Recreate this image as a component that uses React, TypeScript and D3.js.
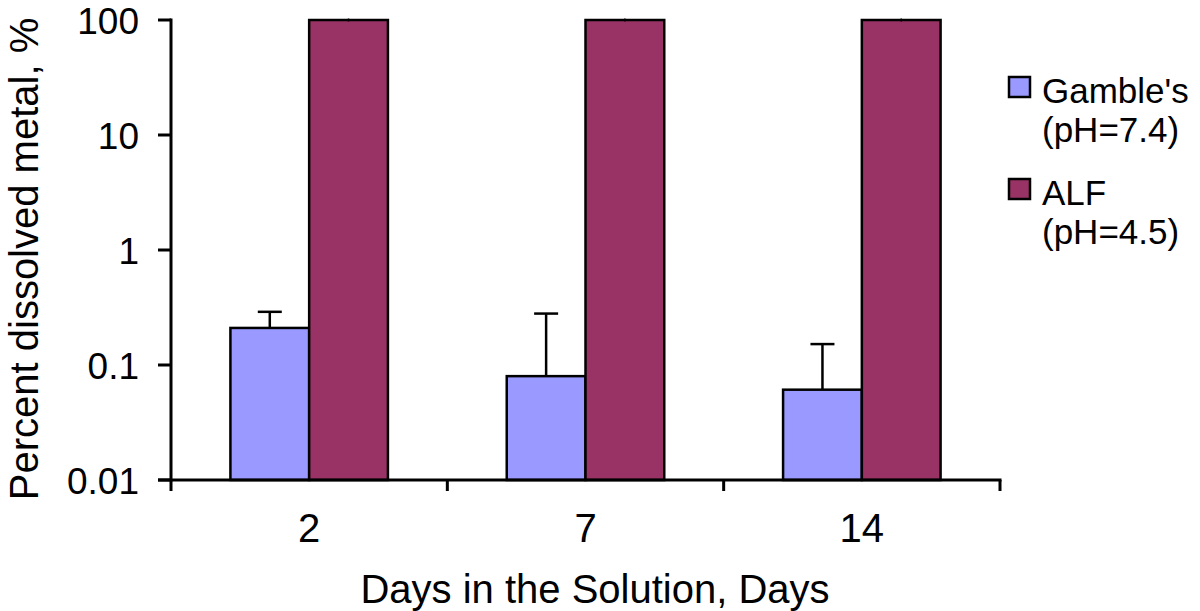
import React from "react";
import * as d3 from "d3";

const categories = ["2", "7", "14"];
const seriesNames = ["Gamble's", "ALF"];
const seriesSub = ["(pH=7.4)", "(pH=4.5)"];
const gambleValues = [0.21, 0.08, 0.061];
const gambleErrTop = [0.29, 0.28, 0.152];
const alfValues = [100, 100, 100];
const alfErrTop = [100, 100, 100];
const yTicks = [0.01, 0.1, 1, 10, 100];
const yTickLabels = ["0.01", "0.1", "1", "10", "100"];
const colors = ["#9999FF", "#993366"];

const W = 1200, H = 611;
const left = 171, right = 1000, top = 20, bottom = 480;
const font = "'Liberation Sans', Arial, Helvetica, sans-serif";

export default function App() {
  const x = d3.scaleBand<string>().domain(categories).range([left, right]).paddingInner(0).paddingOuter(0);
  const y = d3.scaleLog().domain([0.01, 100]).range([bottom, top]);
  const groupW = x.bandwidth() * 0.57;
  const barW = groupW / 2;
  const series = [
    { values: gambleValues, err: gambleErrTop },
    { values: alfValues, err: alfErrTop },
  ];
  const boundaries = [...categories.map((c) => x(c)!), right];
  return (
    <svg width={W} height={H} style={{ position: "absolute", left: 0, top: 0, background: "#fff" }} fontFamily={font}>
      {series.map((s, si) =>
        s.values.map((v, i) => {
          const cx = x(categories[i])! + x.bandwidth() / 2;
          const bx = cx - groupW / 2 + si * barW;
          return (
            <rect key={`b${si}-${i}`} x={bx} y={y(v)} width={barW} height={bottom - y(v)}
              fill={colors[si]} stroke="#000" strokeWidth={2.5} />
          );
        })
      )}
      {series.map((s, si) =>
        s.values.map((v, i) => {
          const cx = x(categories[i])! + x.bandwidth() / 2;
          const ex = cx - groupW / 2 + si * barW + barW / 2;
          const e = s.err[i];
          if (e <= v * 1.001) {
            return <line key={`e${si}-${i}`} x1={ex} x2={ex} y1={y(v) - 1.5} y2={y(v) + 1.5} stroke="#000" strokeWidth={1.5} />;
          }
          return (
            <g key={`e${si}-${i}`} stroke="#000" strokeWidth={2.5}>
              <line x1={ex} x2={ex} y1={y(v)} y2={y(e)} />
              <line x1={ex - 12} x2={ex + 12} y1={y(e)} y2={y(e)} />
            </g>
          );
        })
      )}
      {/* y axis */}
      <line x1={left} x2={left} y1={top - 1.5} y2={bottom + 1.5} stroke="#000" strokeWidth={3} />
      {yTicks.map((t, i) => (
        <g key={`yt${i}`}>
          <line x1={left - 13} x2={left} y1={y(t)} y2={y(t)} stroke="#000" strokeWidth={3} />
          <text x={139} y={y(t)} dy="0.38em" textAnchor="end" fontSize={37} fill="#000">{yTickLabels[i]}</text>
        </g>
      ))}
      {/* x axis */}
      <line x1={left - 13} x2={right + 1.5} y1={bottom} y2={bottom} stroke="#000" strokeWidth={3} />
      {boundaries.map((b, i) => (
        <line key={`xt${i}`} x1={b} x2={b} y1={bottom} y2={bottom + 11} stroke="#000" strokeWidth={3} />
      ))}
      {categories.map((c) => (
        <text key={`xl${c}`} x={x(c)! + x.bandwidth() / 2} y={542} textAnchor="middle" fontSize={40} fill="#000">{c}</text>
      ))}
      <text x={595} y={603} textAnchor="middle" fontSize={40} fill="#000">Days in the Solution, Days</text>
      <text transform={`translate(38, 259) rotate(-90)`} textAnchor="middle" fontSize={40} fill="#000">Percent dissolved metal, %</text>
      {/* legend */}
      {seriesNames.map((n, i) => {
        const ly = 77 + i * 102;
        return (
          <g key={`lg${i}`}>
            <rect x={1009} y={ly} width={21} height={20} fill={colors[i]} stroke="#000" strokeWidth={2.5} />
            <text x={1042} y={ly + 26} fontSize={35} fill="#000">{n}</text>
            <text x={1042} y={ly + 65} fontSize={35} fill="#000">{seriesSub[i]}</text>
          </g>
        );
      })}
    </svg>
  );
}
